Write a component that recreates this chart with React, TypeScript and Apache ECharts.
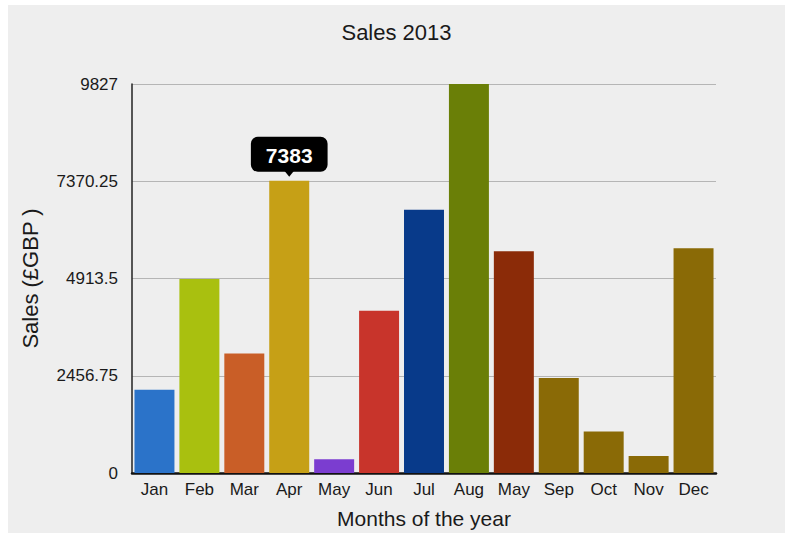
import React, { useEffect, useRef } from "react";
import * as echarts from "echarts";

const categories = ["Jan", "Feb", "Mar", "Apr", "May", "Jun", "Jul", "Aug", "May", "Sep", "Oct", "Nov", "Dec"];
const sales = [2100, 4900, 3020, 7383, 350, 4100, 6650, 9827, 5600, 2400, 1050, 430, 5680];
const barColors = ["#2b73c9", "#a9c00f", "#c95e27", "#c6a016", "#7b3dd0", "#c8342b", "#083a8a", "#6a7f07", "#8b2b08", "#8a6a06", "#8a6a06", "#8a6a06", "#8a6a06"];
const yMax = 9827;
const yInterval = 2456.75;
const highlightIndex = 3;

export default function App() {
  const ref = useRef<HTMLDivElement>(null);
  useEffect(() => {
    if (!ref.current) return;
    const chart = echarts.init(ref.current, null, { renderer: "svg" });
    const font = "Helvetica, Arial, 'Liberation Sans', sans-serif";
    chart.setOption({
      animation: false,
      backgroundColor: "#eeeeee",
      textStyle: { fontFamily: font },
      title: {
        text: "Sales 2013",
        left: "center",
        top: 11,
        textStyle: { fontSize: 22, fontWeight: "normal", color: "#1a1a1a", fontFamily: font },
      },
      grid: { left: 124, right: 69, top: 79, bottom: 60, containLabel: false, outerBoundsMode: "none" },
      xAxis: {
        type: "category",
        data: categories,
        name: "Months of the year",
        nameLocation: "middle",
        nameGap: 35,
        nameTextStyle: { fontSize: 21, color: "#1a1a1a", fontFamily: font },
        axisLine: { show: true, lineStyle: { color: "#111", width: 2.5 } },
        axisTick: { show: false },
        axisLabel: { fontSize: 17, color: "#1a1a1a", margin: 8, fontFamily: font },
      },
      yAxis: {
        type: "value",
        min: 0,
        max: yMax,
        interval: yInterval,
        name: "Sales (£GBP )",
        nameLocation: "middle",
        nameGap: 91,
        nameRotate: 90,
        nameTextStyle: { fontSize: 22, color: "#1a1a1a", fontFamily: font },
        axisLine: { show: true, lineStyle: { color: "#222", width: 1.5 } },
        axisTick: { show: false },
        axisLabel: {
          fontSize: 17,
          color: "#1a1a1a",
          margin: 14,
          fontFamily: font,
          formatter: (v: number) => String(Math.round(v * 100) / 100),
        },
        splitLine: { show: true, lineStyle: { color: "#b5b5b5", width: 1.2 } },
      },
      series: [
        {
          type: "bar",
          barCategoryGap: "11%",
          data: sales.map((v, i) => ({
            value: v,
            itemStyle: { color: barColors[i] },
            label:
              i === highlightIndex
                ? {
                    show: true,
                    position: "top",
                    distance: 9,
                    backgroundColor: "#000",
                    borderRadius: 7,
                    padding: [8, 15, 6, 15],
                    color: "#fff",
                    fontWeight: "bold",
                    fontSize: 21,
                    fontFamily: font,
                  }
                : { show: false },
          })),
          markPoint: {
            silent: true,
            symbol: "triangle",
            symbolRotate: 180,
            symbolSize: [13, 8],
            symbolOffset: [0, -8],
            itemStyle: { color: "#000" },
            label: { show: false },
            data: [{ coord: [highlightIndex, sales[highlightIndex]] }],
          },
        },
      ],
    });
    return () => chart.dispose();
  }, []);
  return (
    <div
      ref={ref}
      style={{ position: "absolute", left: 8, top: 5, width: 777, height: 528 }}
    />
  );
}
